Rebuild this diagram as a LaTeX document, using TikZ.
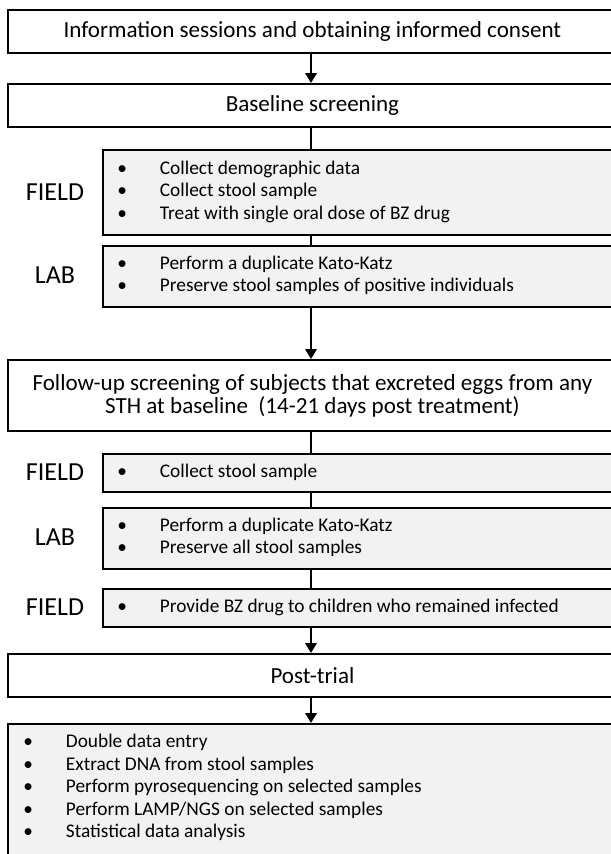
\documentclass[tikz,border=0pt]{standalone}
\usepackage{fontspec}
\setmainfont{Carlito}
\usetikzlibrary{arrows.meta}
\definecolor{boxgray}{HTML}{F2F2F2}
\newcommand{\itm}[1]{\makebox[32pt][l]{\textbullet}#1}
\begin{document}
\begin{tikzpicture}[x=0.75pt,y=-0.75pt,
  wbox/.style={draw=black, line width=1.4pt, fill=white, inner sep=0pt, anchor=north west,
     font=\fontsize{17.3}{17.25}\selectfont, align=center},
  gbox/.style={draw=black, line width=1.4pt, fill=boxgray, inner sep=0pt, anchor=north west},
  lst/.style={anchor=west, inner sep=0pt, align=left, font=\fontsize{14.5}{16.9}\selectfont},
  lbl/.style={inner sep=0pt, font=\fontsize{19.5}{22}\selectfont},
  conn/.style={line width=2.2pt},
  arr/.style={line width=2.2pt, -{Triangle[width=8.5pt,length=7.5pt]}}]
\useasboundingbox (0,0) rectangle (611,854);
\clip (0,0) rectangle (611,854);
\coordinate (sp) at (311,0);
% main boxes
\node[wbox, minimum width=456.75pt, minimum height=32.25pt] (b1) at (7,9) {Information sessions and obtaining informed consent};
\node[wbox, minimum width=456.75pt, minimum height=32.25pt] (b2) at (7,83) {Baseline screening};
\node[wbox, minimum width=456.75pt, minimum height=53.25pt] (b3) at (7,359) {Follow-up screening of subjects that excreted eggs from any\\STH at baseline~ (14-21 days post treatment)};
\node[wbox, minimum width=456.75pt, minimum height=32.25pt] (b4) at (7,653) {Post-trial};
% gray boxes
\node[gbox, minimum width=388.5pt, minimum height=63.75pt] (f1) at (102,149) {};
\node[gbox, minimum width=388.5pt, minimum height=45.75pt] (l1) at (102,245) {};
\node[gbox, minimum width=388.5pt, minimum height=28.5pt] (f2) at (102,453) {};
\node[gbox, minimum width=388.5pt, minimum height=45.75pt] (l2) at (102,507) {};
\node[gbox, minimum width=388.5pt, minimum height=28.5pt] (f3) at (102,588) {};
\node[gbox, minimum width=460pt, minimum height=200pt] (b5) at (7,723) {};
% labels
\node[lbl] (lf1) at (55,192) {FIELD};
\node[lbl] (ll1) at (55,275.5) {LAB};
\node[lbl] (lf2) at (55,472) {FIELD};
\node[lbl] (ll2) at (55,537.5) {LAB};
\node[lbl] (lf3) at (55,607) {FIELD};
% list texts
\node[lst] (tf1) at (117,191.5) {\itm{Collect demographic data}\\\itm{Collect stool sample}\\\itm{Treat with single oral dose of BZ drug}};
\node[lst] (tl1) at (117,275.5) {\itm{Perform a duplicate Kato-Katz}\\\itm{Preserve stool samples of positive individuals}};
\node[lst] (tf2) at (117,472) {\itm{Collect stool sample}};
\node[lst] (tl2) at (117,537.5) {\itm{Perform a duplicate Kato-Katz}\\\itm{Preserve all stool samples}};
\node[lst] (tf3) at (117,607) {\itm{Provide BZ drug to children who remained infected}};
\node[lst] (tb5) at (23,787.5) {\itm{Double data entry}\\\itm{Extract DNA from stool samples}\\\itm{Perform pyrosequencing on selected samples}\\\itm{Perform LAMP/NGS on selected samples}\\\itm{Statistical data analysis}};
% connectors
\draw[arr] (b1.south -| sp) -- (b2.north -| sp);
\draw[conn] (b2.south -| sp) -- (f1.north -| sp);
\draw[conn] (f1.south -| sp) -- (l1.north -| sp);
\draw[arr] (l1.south -| sp) -- (b3.north -| sp);
\draw[conn] (b3.south -| sp) -- (f2.north -| sp);
\draw[conn] (f2.south -| sp) -- (l2.north -| sp);
\draw[conn] (l2.south -| sp) -- (f3.north -| sp);
\draw[arr] (f3.south -| sp) -- (b4.north -| sp);
\draw[arr] (b4.south -| sp) -- (b5.north -| sp);
\end{tikzpicture}
\end{document}
